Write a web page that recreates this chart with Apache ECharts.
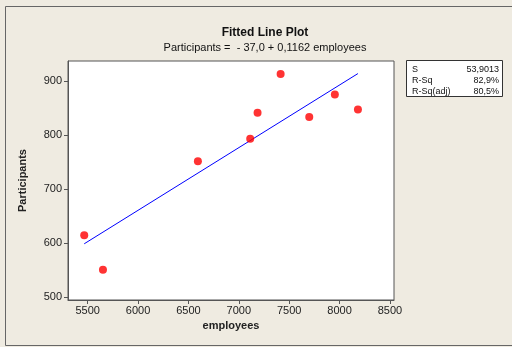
<!DOCTYPE html>
<html><head><meta charset="utf-8">
<script src="https://cdn.jsdelivr.net/npm/echarts@6/dist/echarts.min.js"></script>
<style>html,body{margin:0;padding:0;background:#EFEBE1;}#c{width:512px;height:347px;}</style>
</head><body><div id="c"></div>
<script>
// Data
var employees = [5466, 5652, 6594, 7113, 7186, 7415, 7699, 7953, 8182];
var participants = [614, 550, 751, 793, 841, 913, 833, 875, 847];
var fitX = [5466, 8182];
var fitY = [598.2, 913.7];
var xTicks = [5500, 6000, 6500, 7000, 7500, 8000, 8500];
var yTicks = [500, 600, 700, 800, 900];
var statNames = ['S', 'R-Sq', 'R-Sq(adj)'];
var statValues = ['53,9013', '82,9%', '80,5%'];

var chart = echarts.init(document.getElementById('c'));
var font = 'Liberation Sans, Arial, sans-serif';
var scatter = employees.map(function(v,i){return [v, participants[i]];});
var fit = fitX.map(function(v,i){return [v, fitY[i]];});

var graphics = [
  {type:'rect', shape:{x:5.5,y:6.5,width:520,height:339}, style:{fill:'none', stroke:'#666', lineWidth:1}, silent:true},
  {type:'rect', shape:{x:406.5,y:60.5,width:96,height:36}, style:{fill:'#fff', stroke:'#333', lineWidth:1}, silent:true}
];
statNames.forEach(function(n,i){
  graphics.push({type:'text', x:412, y:70+i*11, style:{text:n, fill:'#111', font:'9px '+font, textVerticalAlign:'middle'}});
  graphics.push({type:'text', x:499, y:70+i*11, style:{text:statValues[i], fill:'#111', font:'9px '+font, textAlign:'right', textVerticalAlign:'middle'}});
});

chart.setOption({
  backgroundColor:'#EFEBE1',
  animation:false,
  title:{text:'Fitted Line Plot', subtext:'Participants =  - 37,0 + 0,1162 employees', left:260, textAlign:'center', top:22, itemGap:3,
    textStyle:{fontFamily:font, fontSize:12, fontWeight:'bold', color:'#111'},
    subtextStyle:{fontFamily:font, fontSize:11, color:'#111'}},
  grid:{left:68, right:118, top:61, bottom:47, show:true, backgroundColor:'#fff', borderColor:'#555', borderWidth:1},
  xAxis:{type:'value', min:5305, max:8540, name:'employees', nameLocation:'middle', nameGap:20,
    nameTextStyle:{fontFamily:font, fontSize:11, fontWeight:'bold', color:'#222'},
    axisLine:{show:true, onZero:false, lineStyle:{color:'#555'}},
    axisTick:{show:true, length:4, customValues:xTicks, lineStyle:{color:'#555'}},
    axisLabel:{customValues:xTicks, formatter:function(v){return String(v);}, fontFamily:font, fontSize:11, color:'#222', margin:5},
    splitLine:{show:false}},
  yAxis:{type:'value', min:494, max:937, name:'Participants', nameLocation:'middle', nameGap:40,
    nameTextStyle:{fontFamily:font, fontSize:11, fontWeight:'bold', color:'#222'},
    axisLine:{show:true, onZero:false, lineStyle:{color:'#555'}},
    axisTick:{show:true, length:4, customValues:yTicks, lineStyle:{color:'#555'}},
    axisLabel:{customValues:yTicks, formatter:function(v){return String(v);}, fontFamily:font, fontSize:11, color:'#222', margin:6},
    splitLine:{show:false}},
  series:[
    {type:'line', data:fit, symbol:'none', lineStyle:{color:'#0000FF', width:1}, z:2},
    {type:'scatter', data:scatter, symbol:'circle', symbolSize:8, itemStyle:{color:'#FF0000'}, z:3}
  ],
  graphic:graphics
});
</script></body></html>
